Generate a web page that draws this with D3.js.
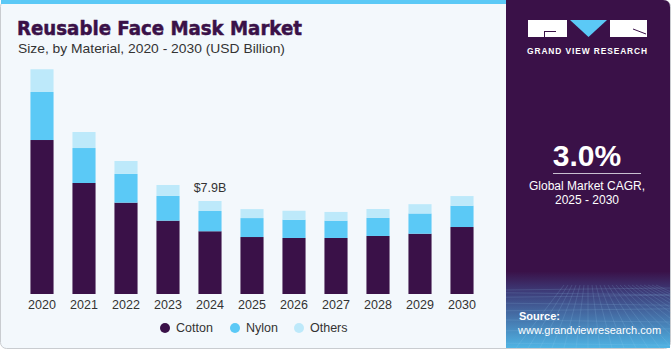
<!DOCTYPE html>
<html>
<head>
<meta charset="utf-8">
<script src="https://cdn.jsdelivr.net/npm/d3@7"></script>
<style>
  body { margin: 0; background: #fff; }
  svg { display: block; font-family: "Liberation Sans", Arial, sans-serif; }
</style>
</head>
<body>
<div id="chart"></div>
<script>
const years = ["2020","2021","2022","2023","2024","2025","2026","2027","2028","2029","2030"];
const cotton = [13.08, 9.43, 7.76, 6.23, 5.33, 4.84, 4.76, 4.76, 4.93, 5.12, 5.69];
const nylon  = [4.08, 2.97, 2.44, 2.10, 1.72, 1.61, 1.55, 1.47, 1.53, 1.72, 1.81];
const others = [1.93, 1.36, 1.10, 0.93, 0.85, 0.76, 0.76, 0.74, 0.76, 0.79, 0.82];
const seriesNames = ["Cotton", "Nylon", "Others"];
const colors = ["#3a1148", "#5bc9f6", "#bde9fa"];

const W = 671, H = 350;
const svg = d3.select("#chart").append("svg")
    .attr("width", W)
    .attr("height", H);

const defs = svg.append("defs");
const grad = defs.append("linearGradient")
    .attr("id", "panelGrad")
    .attr("x1", "0%").attr("x2", "0%").attr("y1", "0%").attr("y2", "100%");
grad.append("stop").attr("offset", "0%").attr("stop-color", "#3a1148");
grad.append("stop").attr("offset", "78%").attr("stop-color", "#3a1148");
grad.append("stop").attr("offset", "84%").attr("stop-color", "#3d3d7a");
grad.append("stop").attr("offset", "100%").attr("stop-color", "#4fb4e4");

// card background
svg.append("rect")
    .attr("x", 0.5).attr("y", 0.5)
    .attr("width", W - 1).attr("height", H - 2)
    .attr("rx", 6)
    .attr("fill", "#f3f8fc")
    .attr("stroke", "#c9ccd0");

// top blue stripe
svg.append("rect")
    .attr("x", 1).attr("y", 0)
    .attr("width", 506).attr("height", 4)
    .attr("fill", "#5bc9f6");

// right panel
svg.append("path")
    .attr("d", `M506,0 H663 Q670,0 670,7 V348 H506 Z`)
    .attr("fill", "url(#panelGrad)");

// faint grid in the bottom of the panel
const gridG = svg.append("g").attr("stroke", "#9fd3f0").attr("stroke-opacity", 0.22).attr("stroke-width", 0.7);
d3.range(0, 9).forEach(i => {
    const y = 290 + i * i * 0.8 + i * 2;
    gridG.append("line").attr("x1", 506).attr("x2", 670).attr("y1", y).attr("y2", y + (i % 2 ? 2 : -2));
});
d3.range(-6, 18).forEach(i => {
    const x0 = 588 + i * 4, x1 = 588 + i * 12;
    gridG.append("line").attr("x1", x0).attr("x2", x1).attr("y1", 285).attr("y2", 348);
});

// logo
const logo = svg.append("g");
logo.append("rect").attr("x", 528).attr("y", 20).attr("width", 39).attr("height", 17).attr("fill", "#fff");
logo.append("path").attr("d", "M544,31.5 H556 M544.5,31 V37").attr("stroke", "#3a1148").attr("stroke-width", 1).attr("fill", "none");
logo.append("path").attr("d", "M570,20 H607 L588.5,37 Z").attr("fill", "#5bc9f6");
logo.append("rect").attr("x", 610).attr("y", 20).attr("width", 37).attr("height", 17).attr("fill", "#fff");
logo.append("path").attr("d", "M633,29 L646,34").attr("stroke", "#3a1148").attr("stroke-width", 1);
logo.append("text")
    .attr("x", 587.5).attr("y", 54)
    .attr("text-anchor", "middle")
    .attr("fill", "#fff")
    .attr("font-size", 8.4)
    .attr("font-weight", "bold")
    .attr("letter-spacing", 0.9)
    .text("GRAND VIEW RESEARCH");

// CAGR block
svg.append("text")
    .attr("x", 587).attr("y", 166)
    .attr("text-anchor", "middle")
    .attr("fill", "#fff")
    .attr("font-size", 30)
    .attr("font-weight", "bold")
    .text("3.0%");
svg.append("line")
    .attr("x1", 553).attr("x2", 641)
    .attr("y1", 173.5).attr("y2", 173.5)
    .attr("stroke", "#c8bfd0").attr("stroke-width", 1.2);
svg.append("text")
    .attr("x", 587).attr("y", 190)
    .attr("text-anchor", "middle")
    .attr("fill", "#fff")
    .attr("font-size", 12)
    .text("Global Market CAGR,");
svg.append("text")
    .attr("x", 587).attr("y", 204)
    .attr("text-anchor", "middle")
    .attr("fill", "#fff")
    .attr("font-size", 12)
    .text("2025 - 2030");

// source
svg.append("text")
    .attr("x", 519).attr("y", 320)
    .attr("fill", "#fff")
    .attr("font-size", 11)
    .attr("font-weight", "bold")
    .text("Source:");
svg.append("text")
    .attr("x", 518).attr("y", 334)
    .attr("fill", "#fff")
    .attr("font-size", 11)
    .text("www.grandviewresearch.com");

// titles
svg.append("text")
    .attr("x", 17).attr("y", 35)
    .attr("fill", "#3a1148")
    .attr("font-size", 19)
    .attr("font-weight", "bold")
    .attr("font-family", "'DejaVu Sans', sans-serif")
    .attr("stroke", "#3a1148")
    .attr("stroke-width", 0.5)
    .attr("textLength", 285)
    .attr("lengthAdjust", "spacingAndGlyphs")
    .text("Reusable Face Mask Market");
svg.append("text")
    .attr("x", 18).attr("y", 53)
    .attr("fill", "#333")
    .attr("font-size", 13)
    .attr("textLength", 267)
    .attr("lengthAdjust", "spacingAndGlyphs")
    .text("Size, by Material, 2020 - 2030 (USD Billion)");

// stacked bars
const table = years.map((y, i) => ({ year: y, Cotton: cotton[i], Nylon: nylon[i], Others: others[i] }));
const stacked = d3.stack().keys(seriesNames)(table);

const x = d3.scaleBand()
    .domain(years)
    .range([21, 483])
    .paddingInner(0.45)
    .paddingOuter(0.225);

const y = d3.scaleLinear()
    .domain([0, 7.9])
    .range([294, 201]);

const plot = svg.append("g");
plot.selectAll("g.layer")
    .data(stacked)
    .enter().append("g")
    .attr("class", "layer")
    .attr("fill", (d, i) => colors[i])
    .selectAll("rect")
    .data(d => d)
    .enter().append("rect")
    .attr("x", d => x(d.data.year))
    .attr("y", d => y(d[1]))
    .attr("width", x.bandwidth())
    .attr("height", d => y(d[0]) - y(d[1]));

// x axis labels
const xAxis = svg.append("g")
    .attr("transform", "translate(0,294)")
    .call(d3.axisBottom(x).tickSize(0).tickPadding(6));
xAxis.select(".domain").remove();
xAxis.selectAll("text")
    .attr("font-size", 12.5)
    .attr("font-family", "'Liberation Sans', Arial, sans-serif")
    .attr("fill", "#333");

// 2024 label
const total2024 = cotton[4] + nylon[4] + others[4];
svg.append("text")
    .attr("x", x("2024") + x.bandwidth() / 2)
    .attr("y", y(total2024) - 9)
    .attr("text-anchor", "middle")
    .attr("font-size", 12.5)
    .attr("fill", "#333")
    .text("$" + total2024.toFixed(1) + "B");

// legend
const legendX = [165, 235, 299];
const legend = svg.append("g");
seriesNames.forEach((name, i) => {
    legend.append("circle")
        .attr("cx", legendX[i]).attr("cy", 328)
        .attr("r", 5)
        .attr("fill", colors[i]);
    legend.append("text")
        .attr("x", legendX[i] + 11).attr("y", 332)
        .attr("font-size", 12.5)
        .attr("fill", "#333")
        .text(name);
});
</script>
</body>
</html>
